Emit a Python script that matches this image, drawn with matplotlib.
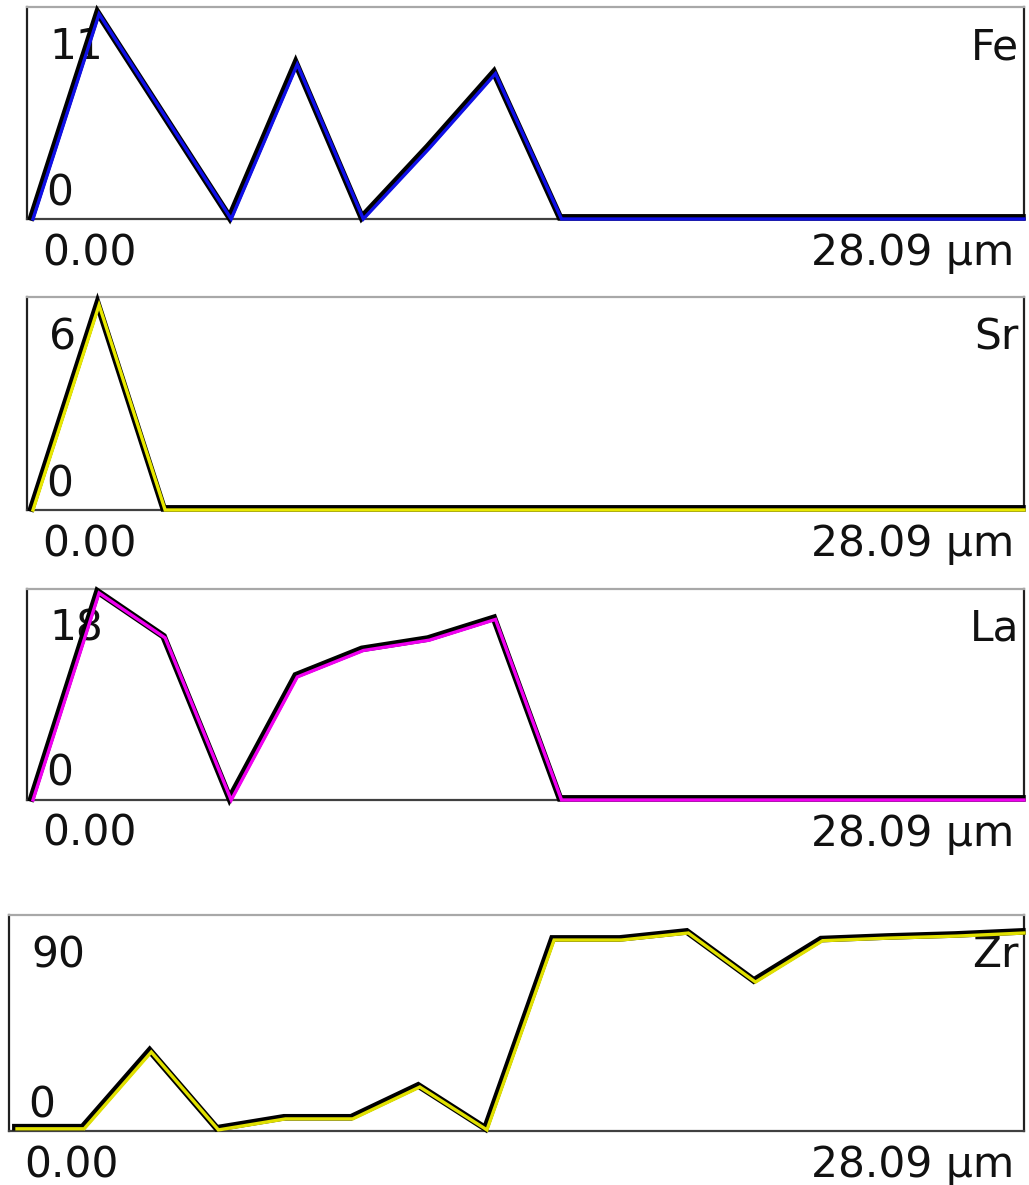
import numpy as np
import matplotlib
matplotlib.use("Agg")
import matplotlib.pyplot as plt
from matplotlib.transforms import offset_copy

plt.rcParams['font.family'] = ['DejaVu Sans']

# Line-scan profile: 16 sample points over 28.09 µm
scan_length = 28.09
n_points = 16
distance = np.linspace(0.0, scan_length, n_points)

elements = ["Fe", "Sr", "La", "Zr"]
max_labels = ["11", "6", "18", "90"]
colors = ["#1010e8", "#e8e800", "#f000f0", "#e0e000"]

fe_counts = [0, 11, 5.5, 0, 8.3, 0, 3.8, 7.8, 0, 0, 0, 0, 0, 0, 0, 0]
sr_counts = [0, 6, 0, 0, 0, 0, 0, 0, 0, 0, 0, 0, 0, 0, 0, 0]
la_counts = [0, 18, 14.1, 0, 10.7, 13.0, 13.9, 15.7, 0, 0, 0, 0, 0, 0, 0, 0]
zr_counts = [1, 1, 35.9, 0.5, 5.5, 5.5, 20, 0.5, 86.8, 86.8, 90, 67.7, 86.5, 87.7, 88.6, 90]
series = [fe_counts, sr_counts, la_counts, zr_counts]

x_start_label = "0.00"
x_end_label = "28.09 µm"

W, H = 1029, 1185
fig = plt.figure(figsize=(W / 100, H / 100), dpi=100)

# panel boxes in pixels: (left, right, top, bottom)
boxes = [(27, 1024, 7, 219), (27, 1024, 297, 510), (27, 1024, 589, 800), (9, 1024, 915, 1131)]
top_frac = [205 / 212, 205 / 213, 207 / 211, 198 / 216]

fs = 30.5
for k, (el, lab, col, vals) in enumerate(zip(elements, max_labels, colors, series)):
    l, r, t, b = boxes[k]
    ax = fig.add_axes([l / W, 1 - b / H, (r - l) / W, (b - t) / H])
    vmax = max(vals)
    ax.set_ylim(0, vmax / top_frac[k])
    first_px = 33 if k < 3 else 17
    pad = (first_px - l) / (r - l - (first_px - l)) * scan_length
    ax.set_xlim(-pad, scan_length)
    ax.set_xticks([])
    ax.set_yticks([])
    for side, c in [("top", "#a8a8a8"), ("left", "#202020"), ("right", "#202020"), ("bottom", "#404040")]:
        ax.spines[side].set_color(c)
        ax.spines[side].set_linewidth(1.6)

    shadow = offset_copy(ax.transData, fig=fig, x=-1.6, y=1.6, units="dots")
    ax.plot(distance, vals, color="black", lw=4.8, transform=shadow,
            solid_joinstyle="miter", clip_on=False, zorder=3)
    ax.plot(distance, vals, color=col, lw=2.4, solid_joinstyle="miter",
            clip_on=False, zorder=4)

    # in-panel labels: max count, zero, element symbol
    ax.annotate(lab, xy=(0, 1), xycoords="axes fraction", xytext=(22, -52),
                textcoords="offset pixels", fontsize=fs, ha="left", va="baseline",
                color="#111111", zorder=1)
    ax.annotate("0", xy=(0, 0), xycoords="axes fraction", xytext=(19, 14),
                textcoords="offset pixels", fontsize=fs, ha="left", va="baseline",
                color="#111111", zorder=1)
    ax.annotate(el, xy=(1, 1), xycoords="axes fraction", xytext=(-5, -52),
                textcoords="offset pixels", fontsize=fs, ha="right", va="baseline",
                color="#111111", zorder=1)
    # distance labels under each panel
    ax.annotate(x_start_label, xy=(0, 0), xycoords="axes fraction", xytext=(15, -46),
                textcoords="offset pixels", fontsize=fs, ha="left", va="baseline",
                color="#111111", annotation_clip=False)
    ax.annotate(x_end_label, xy=(1, 0), xycoords="axes fraction", xytext=(-10, -46),
                textcoords="offset pixels", fontsize=fs, ha="right", va="baseline",
                color="#111111", annotation_clip=False)

fig.savefig("out.png", dpi=100, facecolor="white")
